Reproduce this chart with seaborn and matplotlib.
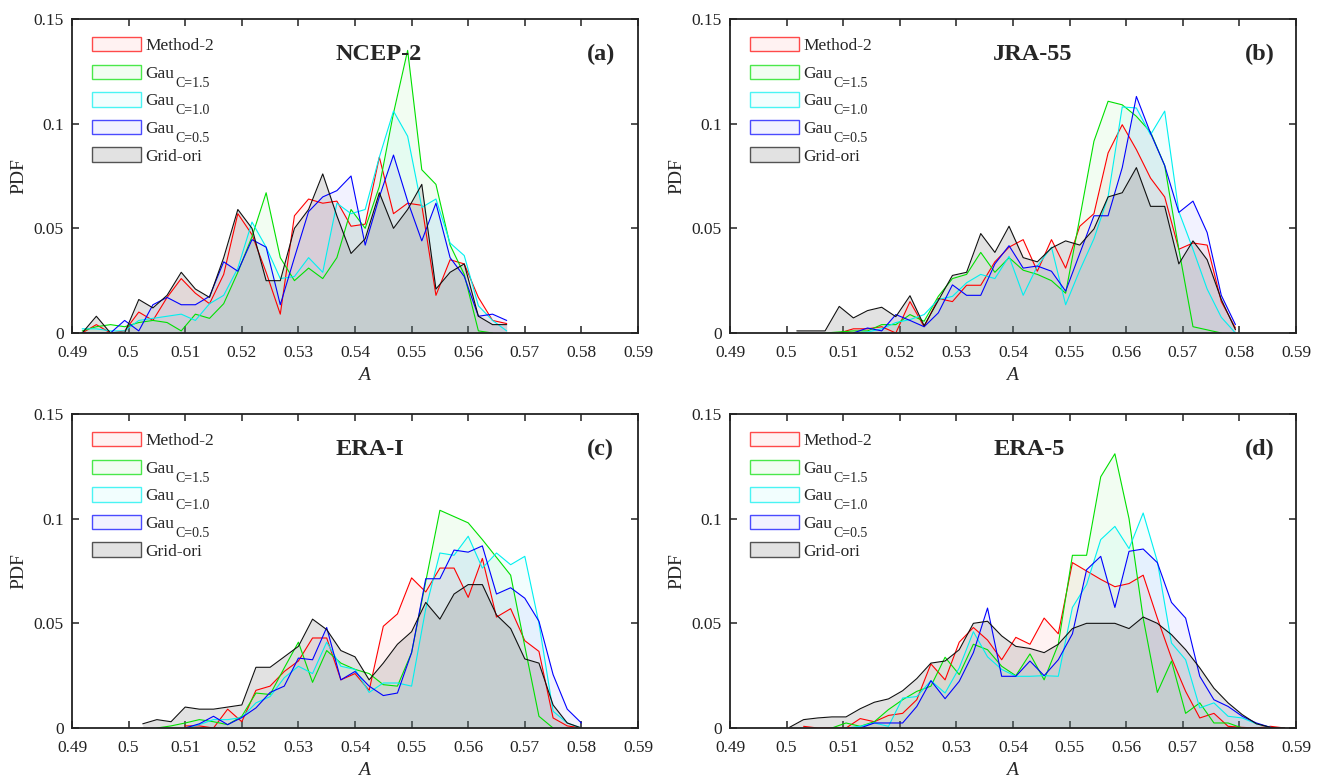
import numpy as np
import seaborn as sns
import matplotlib.pyplot as plt
from matplotlib.colors import to_rgba
from matplotlib.patches import Patch
from matplotlib.ticker import FuncFormatter

sns.set_style("ticks")
plt.rcParams['font.family'] = ['Liberation Serif', 'DejaVu Serif']
plt.rcParams['mathtext.fontset'] = 'custom'
plt.rcParams['mathtext.rm'] = 'Liberation Serif'
plt.rcParams['mathtext.it'] = 'Liberation Serif:italic'

N = None

# ---- (a) NCEP-2 ----
a_bins = [0.4918, 0.4943, 0.4968, 0.4993, 0.5018, 0.5043, 0.5068, 0.5093, 0.5118, 0.5143,
          0.5168, 0.5193, 0.5218, 0.5243, 0.5268, 0.5293, 0.5318, 0.5343, 0.5368, 0.5393,
          0.5418, 0.5443, 0.5468, 0.5493, 0.5518, 0.5543, 0.5568, 0.5593, 0.5618, 0.5643, 0.5668]
a_method2 = [0.000, 0.004, 0.000, 0.001, 0.010, 0.006, 0.017, 0.026, 0.019, 0.014,
             0.028, 0.057, 0.047, 0.029, 0.009, 0.056, 0.064, 0.062, 0.063, 0.051,
             0.052, 0.084, 0.057, 0.062, 0.061, 0.018, 0.035, 0.033, 0.017, 0.006, 0.0045]
a_gau15 = [0.001, 0.003, 0.004, 0.003, 0.005, 0.006, 0.005, 0.001, 0.009, 0.007,
           0.014, 0.029, 0.046, 0.067, 0.036, 0.025, 0.031, 0.026, 0.036, 0.059,
           0.050, 0.070, 0.105, 0.135, 0.078, 0.071, 0.042, 0.028, 0.001, 0.000, N]
a_gau10 = [0.002, 0.002, 0.001, 0.001, 0.006, 0.007, 0.008, 0.009, 0.006, 0.014,
           0.018, 0.031, 0.053, 0.041, 0.026, 0.027, 0.036, 0.029, 0.062, 0.057,
           0.059, 0.084, 0.106, 0.094, 0.060, 0.064, 0.043, 0.037, 0.013, 0.006, 0.001]
a_gau05 = [0.000, 0.000, 0.000, 0.006, 0.001, 0.0135, 0.017, 0.0135, 0.0135, 0.0175,
           0.034, 0.0295, 0.0446, 0.041, 0.0135, 0.036, 0.058, 0.065, 0.068, 0.075,
           0.042, 0.065, 0.085, 0.063, 0.044, 0.062, 0.036, 0.027, 0.008, 0.009, 0.006]
a_grid = [0.000, 0.008, 0.000, 0.000, 0.016, 0.012, 0.018, 0.029, 0.021, 0.017,
          0.036, 0.059, 0.050, 0.025, 0.025, 0.050, 0.059, 0.076, 0.056, 0.038,
          0.045, 0.067, 0.050, 0.059, 0.071, 0.021, 0.029, 0.033, 0.008, 0.004, 0.004]

# ---- (b) JRA-55 ----
b_bins = [0.5018, 0.5043, 0.5068, 0.5093, 0.5118, 0.5143, 0.5168, 0.5193, 0.5218, 0.5243,
          0.5268, 0.5293, 0.5318, 0.5343, 0.5368, 0.5393, 0.5418, 0.5443, 0.5468, 0.5493,
          0.5518, 0.5543, 0.5568, 0.5593, 0.5618, 0.5643, 0.5668, 0.5693, 0.5718, 0.5743,
          0.5768, 0.5793]
b_method2 = [N, N, N, 0.000, 0.002, 0.002, 0.003, 0.000, 0.015, 0.003,
             0.0165, 0.015, 0.0228, 0.0228, 0.034, 0.041, 0.0446, 0.0295, 0.0446, 0.031,
             0.051, 0.057, 0.086, 0.0995, 0.0876, 0.074, 0.065, 0.040, 0.043, 0.042,
             0.015, 0.0024]
b_gau15 = [N, N, 0.000, 0.0005, 0.001, 0.001, 0.004, 0.004, 0.0088, 0.0056,
           0.0175, 0.026, 0.028, 0.0385, 0.029, 0.036, 0.030, 0.028, 0.025, 0.019,
           0.055, 0.0916, 0.1107, 0.109, 0.1035, 0.096, 0.080, 0.040, 0.003, 0.0015,
           0.000, N]
b_gau10 = [N, N, N, N, 0.000, 0.0005, 0.002, 0.005, 0.0064, 0.0088,
           0.016, 0.0175, 0.024, 0.028, 0.026, 0.0366, 0.018, 0.032, 0.041, 0.0135,
           0.030, 0.045, 0.065, 0.108, 0.1075, 0.0947, 0.106, 0.058, 0.040, 0.021,
           0.0075, 0.000]
b_gau05 = [N, N, N, N, 0.000, 0.0024, 0.001, 0.0088, 0.006, 0.003,
           0.0096, 0.023, 0.018, 0.018, 0.033, 0.0417, 0.031, 0.032, 0.0295, 0.020,
           0.038, 0.056, 0.056, 0.079, 0.113, 0.0955, 0.080, 0.0576, 0.063, 0.048,
           0.018, 0.004]
b_grid = [0.001, 0.001, 0.001, 0.0127, 0.0072, 0.0107, 0.0123, 0.0078, 0.0178, 0.0035,
          0.0155, 0.0275, 0.029, 0.0475, 0.0385, 0.051, 0.036, 0.034, 0.0406, 0.044,
          0.042, 0.0497, 0.065, 0.067, 0.079, 0.0605, 0.0605, 0.033, 0.044, 0.035,
          0.016, 0.0016]

# ---- (c) ERA-I ----
c_bins = [0.5025, 0.5050, 0.5075, 0.5100, 0.5125, 0.5150, 0.5175, 0.5200, 0.5225, 0.5250,
          0.5275, 0.5300, 0.5325, 0.5350, 0.5375, 0.5400, 0.5425, 0.5450, 0.5475, 0.5500,
          0.5525, 0.5550, 0.5575, 0.5600, 0.5625, 0.5650, 0.5675, 0.5700, 0.5725, 0.5750,
          0.5775, 0.5800]
c_method2 = [N, N, N, 0.001, 0.001, 0.000, 0.009, 0.003, 0.018, 0.020,
             0.027, 0.032, 0.043, 0.043, 0.023, 0.026, 0.018, 0.0486, 0.0545, 0.0717,
             0.065, 0.0764, 0.0764, 0.0624, 0.081, 0.053, 0.057, 0.0417, 0.0366, 0.0048,
             0.001, 0.000]
c_gau15 = [N, 0.000, 0.001, 0.0024, 0.004, 0.003, 0.0016, 0.0056, 0.0167, 0.016,
           0.0287, 0.041, 0.0218, 0.037, 0.031, 0.028, 0.026, 0.0207, 0.020, 0.036,
           0.070, 0.104, 0.101, 0.098, 0.090, 0.0815, 0.073, 0.039, 0.0056, 0.000,
           N, N]
c_gau10 = [N, N, N, 0.000, 0.0016, 0.004, 0.004, 0.005, 0.012, 0.015,
           0.024, 0.0295, 0.026, 0.041, 0.0295, 0.028, 0.017, 0.0215, 0.0215, 0.020,
           0.057, 0.0836, 0.0825, 0.0916, 0.0764, 0.0836, 0.078, 0.082, 0.050, 0.008,
           0.0024, 0.000]
c_gau05 = [N, N, N, 0.000, 0.002, 0.0056, 0.0016, 0.005, 0.0096, 0.017,
           0.020, 0.0334, 0.0326, 0.048, 0.023, 0.027, 0.020, 0.0155, 0.0167, 0.036,
           0.0713, 0.0713, 0.085, 0.084, 0.087, 0.064, 0.067, 0.062, 0.051, 0.0255,
           0.009, 0.0024]
c_grid = [0.002, 0.004, 0.003, 0.010, 0.009, 0.009, 0.010, 0.011, 0.029, 0.029,
          0.034, 0.039, 0.052, 0.047, 0.037, 0.034, 0.023, 0.031, 0.040, 0.046,
          0.060, 0.052, 0.064, 0.0685, 0.0685, 0.054, 0.0475, 0.033, 0.031, 0.011,
          0.0024, 0.000]

# ---- (d) ERA-5 ----
d_bins = [0.5005, 0.5030, 0.5055, 0.5080, 0.5105, 0.5130, 0.5155, 0.5180, 0.5205, 0.5230,
          0.5255, 0.5280, 0.5305, 0.5330, 0.5355, 0.5380, 0.5405, 0.5430, 0.5455, 0.5480,
          0.5505, 0.5530, 0.5555, 0.5580, 0.5605, 0.5630, 0.5655, 0.5680, 0.5705, 0.5730,
          0.5755, 0.5780, 0.5805, 0.5830, 0.5855, 0.5880]
d_method2 = [N, 0.0008, 0.000, 0.000, 0.000, 0.0045, 0.003, 0.006, 0.007, 0.0135,
             0.0306, 0.023, 0.041, 0.048, 0.042, 0.0326, 0.0433, 0.040, 0.0525, 0.045,
             0.079, 0.075, 0.071, 0.0675, 0.069, 0.073, 0.0525, 0.0334, 0.0175, 0.0048,
             0.007, 0.0008, 0.0003, 0.000, 0.0008, 0.000]
d_gau15 = [N, N, N, 0.000, 0.0024, 0.0008, 0.003, 0.0088, 0.0135, 0.0175,
           0.020, 0.0338, 0.0255, 0.040, 0.0374, 0.0295, 0.025, 0.0354, 0.023, 0.040,
           0.0825, 0.0825, 0.120, 0.131, 0.100, 0.0525, 0.017, 0.032, 0.007, 0.012,
           0.0024, 0.0024, 0.000, N, N, N]
d_gau10 = [N, N, N, N, 0.000, 0.0008, 0.0024, 0.0008, 0.0143, 0.015,
           0.0226, 0.0167, 0.0287, 0.046, 0.034, 0.028, 0.0247, 0.0247, 0.025, 0.0247,
           0.0576, 0.0685, 0.090, 0.0963, 0.0857, 0.1027, 0.0796, 0.0406, 0.0326, 0.0096,
           0.012, 0.0056, 0.0048, 0.002, 0.0003, N]
d_gau05 = [N, N, N, N, 0.000, 0.000, 0.0024, 0.0024, 0.0024, 0.0103,
           0.0226, 0.014, 0.0223, 0.036, 0.0573, 0.0247, 0.0247, 0.032, 0.025, 0.0326,
           0.045, 0.0756, 0.082, 0.0576, 0.0844, 0.0855, 0.079, 0.060, 0.0525, 0.0247,
           0.0135, 0.0103, 0.0056, 0.0024, 0.0003, N]
d_grid = [0.0003, 0.004, 0.0048, 0.0053, 0.0053, 0.0092, 0.0123, 0.0139, 0.0178, 0.0236,
          0.031, 0.032, 0.0374, 0.050, 0.051, 0.044, 0.039, 0.038, 0.036, 0.040,
          0.0475, 0.050, 0.050, 0.050, 0.0475, 0.053, 0.050, 0.0446, 0.0374, 0.0287,
          0.019, 0.012, 0.0064, 0.002, 0.0003, 0.000]

labels = ['Method-2', 'Gau', 'Gau', 'Gau', 'Grid-ori']
label_subs = [None, 'C=1.5', 'C=1.0', 'C=0.5', None]
line_colors = ['#ff0000', '#00e000', '#00f0f0', '#0000ff', '#111111']
fill_colors = ['#ff0000', '#00e000', '#00f0f0', '#0000ff', '#7f7f7f']
fill_alpha = [0.05, 0.05, 0.05, 0.05, 0.22]

panels = [
    ('NCEP-2', '(a)', a_bins, [a_method2, a_gau15, a_gau10, a_gau05, a_grid]),
    ('JRA-55', '(b)', b_bins, [b_method2, b_gau15, b_gau10, b_gau05, b_grid]),
    ('ERA-I', '(c)', c_bins, [c_method2, c_gau15, c_gau10, c_gau05, c_grid]),
    ('ERA-5', '(d)', d_bins, [d_method2, d_gau15, d_gau10, d_gau05, d_grid]),
]

W, H = 1321, 778
fig = plt.figure(figsize=(W / 100, H / 100), dpi=100)
# axes boxes in pixels: left, top, right, bottom
boxes = [(72, 19, 638, 333), (730, 19, 1296, 333), (72, 414, 638, 728), (730, 414, 1296, 728)]

fmt = FuncFormatter(lambda v, p: '{:g}'.format(round(v, 4)))

for (name, tag, bins, series), (l, t, r, b) in zip(panels, boxes):
    ax = fig.add_axes([l / W, 1 - b / H, (r - l) / W, (b - t) / H])
    x = np.array(bins, dtype=float)
    for vals, lc, fc, fa in zip(series, line_colors, fill_colors, fill_alpha):
        y = np.array(vals, dtype=float)
        ok = ~np.isnan(y)
        ax.fill_between(x[ok], y[ok], 0, color=fc, alpha=fa, linewidth=0)
        sns.lineplot(x=x[ok], y=y[ok], ax=ax, color=lc, linewidth=0.8,
                     estimator=None, sort=False)

    ax.set_xlim(0.49, 0.59)
    ax.set_ylim(0, 0.15)
    ax.set_xticks(np.linspace(0.49, 0.59, 11))
    ax.set_yticks([0, 0.05, 0.1, 0.15])
    ax.xaxis.set_major_formatter(fmt)
    ax.yaxis.set_major_formatter(fmt)
    ax.tick_params(direction='in', top=True, right=True, length=5, width=1.1,
                   labelsize=12.5, colors='#222222')
    ax.tick_params(axis='x', pad=9)
    ax.tick_params(axis='y', pad=6)
    for s in ax.spines.values():
        s.set_linewidth(1.3)
        s.set_color('#222222')

    ax.set_xlabel('$A$', fontsize=14, va='top')
    ax.xaxis.set_label_coords(0.516 if l < 300 else 0.5, -0.108)
    ax.set_ylabel('PDF', fontsize=14)
    ax.yaxis.set_label_coords(-0.078, 0.5)

    ax.text(0.465, 0.869, name, transform=ax.transAxes, ha='left', va='baseline',
            fontsize=17.5, fontweight='bold')
    ax.text(0.91, 0.869, tag, transform=ax.transAxes, ha='left', va='baseline',
            fontsize=17.5, fontweight='bold')

    handles = [Patch(facecolor=to_rgba(fc, fa), edgecolor=to_rgba(lc, 0.7), linewidth=1.0)
               for fc, fa, lc in zip(fill_colors, fill_alpha, line_colors)]
    leg = ax.legend(handles, labels, loc='upper left', bbox_to_anchor=(0.036, 0.943),
                    frameon=False, fontsize=12.5, handlelength=2.8, handleheight=0.9,
                    handletextpad=0.25, labelspacing=0.6, borderaxespad=0, borderpad=0)
    for txt, sub in zip(leg.get_texts(), label_subs):
        if sub:
            ax.annotate(sub, xy=(1, 0), xycoords=txt, xytext=(0.5, -3.7),
                        textcoords='offset points', fontsize=10, va='baseline',
                        ha='left', zorder=6)

fig.canvas.draw()
fig.savefig('out.png', dpi=100)
